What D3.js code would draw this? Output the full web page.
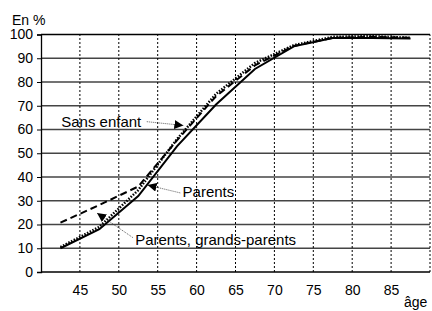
<!DOCTYPE html>
<html>
<head>
<meta charset="utf-8">
<script src="https://cdn.jsdelivr.net/npm/d3@7"></script>
<style>
  body { margin: 0; background: #fff; }
  svg { display: block; font-family: "Liberation Sans", Arial, sans-serif; }
</style>
</head>
<body>
<div id="chart"></div>
<script>
// données
const ages = [42.5, 47.5, 52.5, 57.5, 62.5, 67.5, 72.5, 77.5, 82.5, 87.5];
const grandsParents = [10, 18, 32, 53, 70.5, 85.5, 95, 98.5, 98.5, 98.3];
const parents = [20.8, 28.2, 36, 55.5, 74, 87, 95.2, 98.6, 99, 98.6];
const sansEnfant = [10.5, 19, 34.5, 56, 75, 88, 95.5, 99, 99.3, 98.6];

const xTicks = [45, 50, 55, 60, 65, 70, 75, 80, 85];
const xGrid = [45, 50, 55, 60, 65, 70, 75, 80, 85, 90];
const yTicks = [0, 10, 20, 30, 40, 50, 60, 70, 80, 90, 100];

const width = 432, height = 311;
const margin = { top: 34.5, right: 2, bottom: 39, left: 41 };

const svg = d3.select("#chart").append("svg")
  .attr("width", width)
  .attr("height", height);

const x = d3.scaleLinear().domain([40, 90]).range([margin.left, width - margin.right]);
const y = d3.scaleLinear().domain([0, 100]).range([height - margin.bottom, margin.top]);

// fleches
svg.append("defs").append("marker")
  .attr("id", "fleche")
  .attr("viewBox", "0 0 10 10")
  .attr("refX", 10).attr("refY", 5)
  .attr("markerWidth", 9).attr("markerHeight", 9)
  .attr("markerUnits", "userSpaceOnUse")
  .attr("orient", "auto")
  .append("path").attr("d", "M0,0L10,5L0,10z").attr("fill", "#000");

// grille horizontale
svg.append("g").selectAll("line").data(yTicks).enter().append("line")
  .attr("x1", x(40)).attr("x2", x(90))
  .attr("y1", d => y(d)).attr("y2", d => y(d))
  .attr("stroke", d => (d === 0 || d === 100) ? "#000" : "#444")
  .attr("stroke-width", 1.3);

// grille verticale pointillée
svg.append("g").selectAll("line").data(xGrid).enter().append("line")
  .attr("x1", d => x(d)).attr("x2", d => x(d))
  .attr("y1", y(0)).attr("y2", y(100))
  .attr("stroke", "#000")
  .attr("stroke-width", 1)
  .attr("stroke-dasharray", "2,2");

// axe Y
const yAxis = d3.axisLeft(y).tickValues(yTicks).tickSize(4).tickPadding(4);
const gy = svg.append("g").attr("transform", "translate(" + x(40) + ",0)").call(yAxis);
gy.select(".domain").attr("stroke", "#000").attr("stroke-width", 1.3);
gy.selectAll(".tick line").attr("stroke", "#000");
gy.selectAll("text").attr("font-size", 14).attr("font-family", "Liberation Sans, Arial, sans-serif").attr("fill", "#000");

// axe X
const xAxis = d3.axisBottom(x).tickValues(xTicks).tickSize(0).tickPadding(13);
const gx = svg.append("g").attr("transform", "translate(0," + y(0) + ")").call(xAxis);
gx.select(".domain").remove();
gx.selectAll("text").attr("font-size", 14).attr("font-family", "Liberation Sans, Arial, sans-serif").attr("fill", "#000");

svg.append("text").attr("x", 12).attr("y", 25).attr("font-size", 14).text("En %");
svg.append("text").attr("x", 404).attr("y", 307).attr("font-size", 14).text("âge");

// courbes
const line = d3.line().x((d, i) => x(ages[i])).y(d => y(d));

svg.append("path").datum(grandsParents)
  .attr("d", line).attr("fill", "none")
  .attr("stroke", "#000").attr("stroke-width", 2);

svg.append("path").datum(parents)
  .attr("d", line).attr("fill", "none")
  .attr("stroke", "#000").attr("stroke-width", 2)
  .attr("stroke-dasharray", "7,4");

svg.append("path").datum(sansEnfant)
  .attr("d", line).attr("fill", "none")
  .attr("stroke", "#000").attr("stroke-width", 2.5)
  .attr("stroke-dasharray", "1.5,1.5");

// annotations (en unités de données)
const labels = ["Sans enfant", "Parents", "Parents, grands-parents"];
const labelPos = [[42.6, 63.2], [58.2, 33.7], [52.1, 13.5]];
const leaderFrom = [[53.6, 63.3], [57.9, 33.3], [51.8, 14.5]];
const leaderTo = [[58.3, 61.7], [53.7, 36.6], [47.2, 24.8]];

labels.forEach(function (t, i) {
  svg.append("text")
    .attr("x", x(labelPos[i][0])).attr("y", y(labelPos[i][1]))
    .attr("dy", "0.35em")
    .attr("font-size", 15)
    .text(t);
  svg.append("line")
    .attr("x1", x(leaderFrom[i][0])).attr("y1", y(leaderFrom[i][1]))
    .attr("x2", x(leaderTo[i][0])).attr("y2", y(leaderTo[i][1]))
    .attr("stroke", "#333").attr("stroke-width", 0.8)
    .attr("stroke-dasharray", "1,1")
    .attr("marker-end", "url(#fleche)");
});
</script>
</body>
</html>
